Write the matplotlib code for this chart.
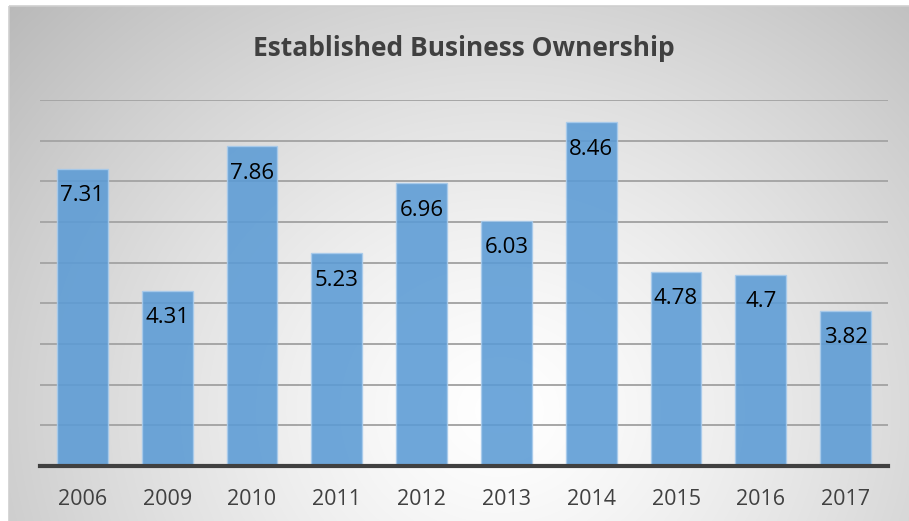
import numpy as np
import matplotlib
matplotlib.use("Agg")
import matplotlib.pyplot as plt
from matplotlib.patches import Rectangle

# data
years = ["2006", "2009", "2010", "2011", "2012", "2013", "2014", "2015", "2016", "2017"]
ownership = [7.31, 4.31, 7.86, 5.23, 6.96, 6.03, 8.46, 4.78, 4.7, 3.82]

plt.rcParams['font.family'] = ['Open Sans', 'DejaVu Sans']

fig = plt.figure(figsize=(9.09, 5.21), dpi=100)

# radial grey background
bg = fig.add_axes([0, 0, 1, 1], zorder=-10)
W, H = 909, 521
xx, yy = np.meshgrid(np.arange(W), np.arange(H))
d = np.sqrt(((xx - 500) / 620.0) ** 2 + ((yy - 410) / 560.0) ** 2)
shade = 1.0 - 0.25 * np.clip(d, 0, 1.2) ** 1.3
img = np.dstack([shade, shade, shade])
# white margin outside the chart frame
img[:6, :, :] = 1.0
img[:, :9, :] = 1.0
bg.imshow(img, aspect='auto', extent=(0, W, H, 0), interpolation='bilinear')
bg.add_patch(Rectangle((9, 6), W, H, fill=False, edgecolor='#cfcfcf', linewidth=1.2))
bg.set_xlim(0, W)
bg.set_ylim(H, 0)
bg.axis('off')

ax = fig.add_axes([40 / 909, 1 - 466 / 521, 848 / 909, 366 / 521])
ax.patch.set_alpha(0)

x = np.arange(len(years))
bars = ax.bar(x, ownership, width=0.6, color='#5b9bd5', alpha=0.88,
              edgecolor='#a8cbec', linewidth=1.0, zorder=3)

for xi, v in zip(x, ownership):
    ax.annotate(str(v), (xi, v), xytext=(0, -19.5), textcoords='offset points',
                ha='center', va='center', fontsize=16, color='black', zorder=4)

ax.set_xlim(-0.5, len(years) - 0.5)
ax.set_ylim(0, 9)
ax.set_yticks(np.arange(1, 10))
ax.yaxis.grid(True, color='#a6a6a6', linewidth=1.4, zorder=1)
ax.set_axisbelow(True)
ax.tick_params(axis='y', left=False, labelleft=False)
ax.tick_params(axis='x', bottom=False, labelsize=15.5, labelcolor='#404040', pad=13)
ax.set_xticks(x)
ax.set_xticklabels(years)

for s in ['top', 'right', 'left']:
    ax.spines[s].set_visible(False)
ax.spines['bottom'].set_color('#404040')
ax.spines['bottom'].set_linewidth(3)
ax.spines['bottom'].set_zorder(5)

fig.text(464 / 909, 1 - 49 / 521, "Established Business Ownership", ha='center', va='center',
         fontsize=19, fontweight='bold', color='#404040')

fig.savefig("out.png", dpi=100)
